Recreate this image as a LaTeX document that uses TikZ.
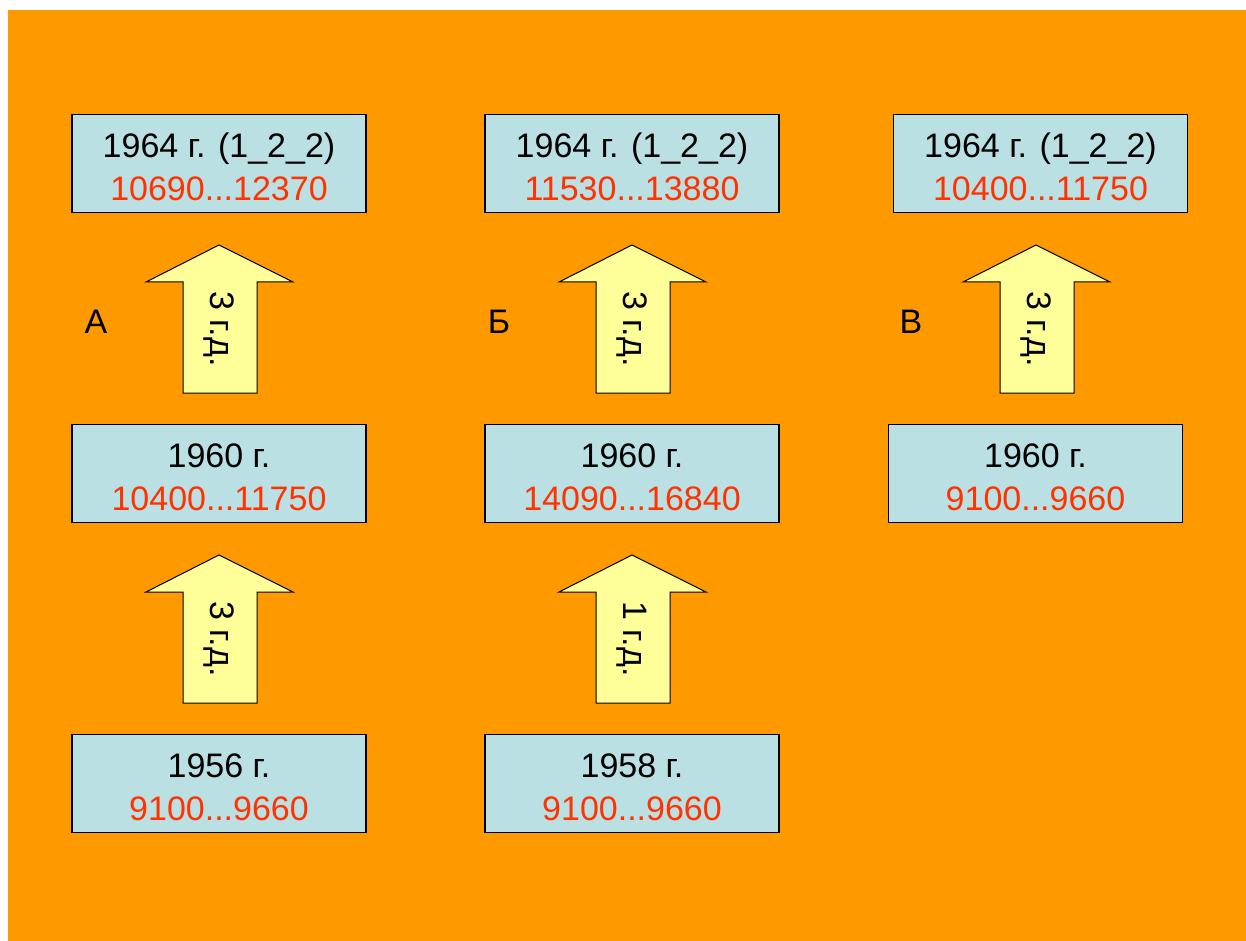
\documentclass[tikz,border=0pt]{standalone}
\usepackage{fontspec}
\setmainfont{Liberation Sans}
\definecolor{bgorange}{HTML}{FF9900}
\definecolor{boxblue}{HTML}{BBE0E3}
\definecolor{arrowyellow}{HTML}{FFFF99}
\definecolor{rangered}{HTML}{FF3300}
% a little extra head room above the first line of each year box
\newcommand\toproom{\rule{0pt}{23.5pt}}
\begin{document}
\begin{tikzpicture}[x=0.75pt,y=-0.75pt,
  yearbox/.style={draw=black, line width=0.9pt, fill=boxblue,
    minimum width=220.5pt, minimum height=73.5pt, inner sep=0pt,
    align=center, font=\fontsize{25.5}{32.5}\selectfont},
  blockarrow/.style={draw=black, line width=0.75pt, fill=arrowyellow, line join=miter},
  arrowtext/.style={rotate=-90, inner sep=0pt, font=\fontsize{25.5}{30}\selectfont},
  panel/.style={inner sep=0pt, font=\fontsize{25.5}{30}\selectfont},
  uparrow/.pic={\path[blockarrow] (0,0) -- (74,37) -- (38,37) -- (38,148)
    -- (-36,148) -- (-36,37) -- (-73,37) -- cycle;}]
\useasboundingbox (0,0) rectangle (1246,941);
\fill[white] (0,0) rectangle (1246,941);
\fill[bgorange] (8,10) rectangle (1246,941);

% column A
\node[yearbox] (a64) at (219,163.5) {\toproom 1964 г. (1\_2\_2)\\\textcolor{rangered}{10690...12370}};
\node[yearbox] (a60) at (219,473.5) {\toproom 1960 г.\\\textcolor{rangered}{10400...11750}};
\node[yearbox] (a56) at (219,783.5) {\toproom 1956 г.\\\textcolor{rangered}{9100...9660}};
\pic at (219,245) {uparrow};
\node[arrowtext] (a60to64) at (219,329) {3 г.д.};
\pic at (219,555) {uparrow};
\node[arrowtext] (a56to60) at (219,639) {3 г.д.};
\node[panel] (la) at (96,322) {А};

% column Б
\node[yearbox] (b64) at (632,163.5) {\toproom 1964 г. (1\_2\_2)\\\textcolor{rangered}{11530...13880}};
\node[yearbox] (b60) at (632,473.5) {\toproom 1960 г.\\\textcolor{rangered}{14090...16840}};
\node[yearbox] (b58) at (632,783.5) {\toproom 1958 г.\\\textcolor{rangered}{9100...9660}};
\pic at (632,245) {uparrow};
\node[arrowtext] (b60to64) at (632,329) {3 г.д.};
\pic at (632,555) {uparrow};
\node[arrowtext] (b58to60) at (632,639) {1 г.д.};
\node[panel] (lb) at (499,322) {Б};

% column В
\node[yearbox] (c64) at (1040.5,163.5) {\toproom 1964 г. (1\_2\_2)\\\textcolor{rangered}{10400...11750}};
\node[yearbox] (c60) at (1035.5,473.5) {\toproom 1960 г.\\\textcolor{rangered}{9100...9660}};
\pic at (1036,245) {uparrow};
\node[arrowtext] (c60to64) at (1036,329) {3 г.д.};
\node[panel] (lc) at (911,322) {В};
\end{tikzpicture}
\end{document}
